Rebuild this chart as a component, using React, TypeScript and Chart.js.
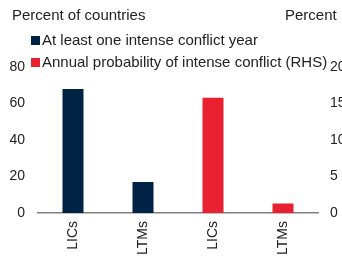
import React, { useEffect, useRef } from "react";
import { Chart, registerables } from "chart.js";

Chart.register(...registerables);

const categories = ["LICs", "LTMs", "LICs", "LTMs"];
const intenseConflictShare = [68, 17, null, null];
const annualProbability = [null, null, 15.8, 1.3];
const leftTicks = [0, 20, 40, 60, 80];
const rightTicks = [0, 5, 10, 15, 20];
const legendLabels = ["At least one intense conflict year", "Annual probability of intense conflict (RHS)"];
const leftTitle = "Percent of countries";
const rightTitle = "Percent";

const NAVY = "#002244";
const RED = "#e8202f";
const FONT = "'Liberation Sans', Arial, sans-serif";

export default function App() {
  const ref = useRef<HTMLCanvasElement | null>(null);
  useEffect(() => {
    if (!ref.current) return;
    const overlay = {
      id: "overlay",
      afterDraw(chart: any) {
        const ctx = chart.ctx;
        ctx.save();
        ctx.font = `15px ${FONT}`;
        ctx.fillStyle = "#222";
        ctx.textBaseline = "middle";
        ctx.textAlign = "left";
        ctx.fillText(leftTitle, 12, 16);
        ctx.fillText(rightTitle, 285, 16);
        const colors = [NAVY, RED];
        legendLabels.forEach((t, i) => {
          const y = 41 + i * 22;
          ctx.fillStyle = colors[i];
          ctx.fillRect(31, y - 5, 9, 9);
          ctx.fillStyle = "#222";
          ctx.fillText(t, 42, y);
        });
        ctx.restore();
      },
    };
    const chart = new Chart(ref.current, {
      type: "bar",
      data: {
        labels: categories,
        datasets: [
          {
            label: legendLabels[0],
            data: intenseConflictShare,
            backgroundColor: NAVY,
            yAxisID: "y",
            grouped: false,
            barPercentage: 0.3,
            categoryPercentage: 1,
          } as any,
          {
            label: legendLabels[1],
            data: annualProbability,
            backgroundColor: RED,
            yAxisID: "y2",
            grouped: false,
            barPercentage: 0.3,
            categoryPercentage: 1,
          } as any,
        ],
      },
      options: {
        animation: false,
        responsive: false,
        layout: { padding: { top: 67, left: 0, right: 0, bottom: 0 } },
        plugins: { legend: { display: false }, tooltip: { enabled: false } },
        scales: {
          x: {
            grid: { display: false, drawTicks: false },
            border: { display: true, color: "#808080", width: 1.5 },
            ticks: {
              color: "#222",
              font: { size: 14, family: FONT },
              minRotation: 90,
              maxRotation: 90,
              padding: 8,
            },
            afterFit: (s: any) => { s.height = 47; },
          },
          y: {
            position: "left",
            min: 0,
            max: 80,
            afterBuildTicks: (s: any) => { s.ticks = leftTicks.map((v) => ({ value: v })); },
            grid: { display: false, drawTicks: false },
            border: { display: false },
            ticks: { color: "#222", font: { size: 14, family: FONT }, padding: 13 },
            afterFit: (s: any) => { s.width = 38; },
          },
          y2: {
            position: "right",
            min: 0,
            max: 20,
            afterBuildTicks: (s: any) => { s.ticks = rightTicks.map((v) => ({ value: v })); },
            grid: { display: false, drawTicks: false },
            border: { display: false },
            ticks: { color: "#222", font: { size: 14, family: FONT }, padding: 12 },
            afterFit: (s: any) => { s.width = 52; },
          },
        },
      },
      plugins: [overlay],
    });
    return () => chart.destroy();
  }, []);
  return (
    <div style={{ position: "fixed", left: 0, top: 0, width: 342, height: 260, overflow: "hidden", background: "#fff" }}>
      <canvas ref={ref} width={370} height={260} style={{ width: 370, height: 260, display: "block" }} />
    </div>
  );
}
